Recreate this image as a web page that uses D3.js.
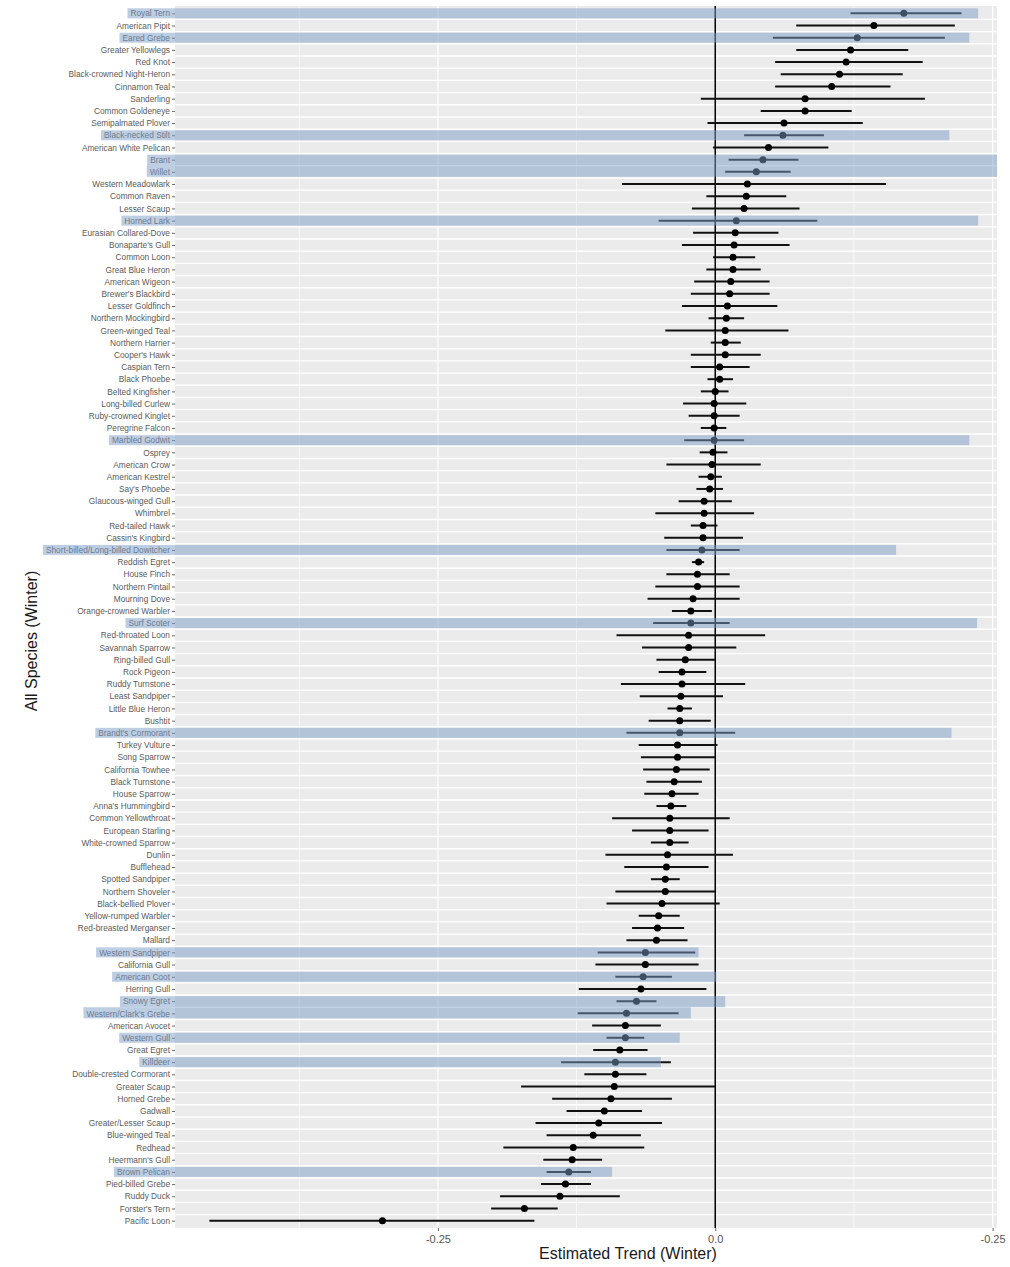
<!DOCTYPE html>
<html>
<head>
<meta charset="utf-8">
<script src="https://cdn.jsdelivr.net/npm/d3@7"></script>
<style>
  body { margin: 0; background: #fff; }
  text { font-family: 'Liberation Sans', Arial, sans-serif; }
</style>
</head>
<body>
<script>
const species = [
  'Royal Tern', 'American Pipit', 'Eared Grebe', 'Greater Yellowlegs', 'Red Knot',
  'Black-crowned Night-Heron', 'Cinnamon Teal', 'Sanderling', 'Common Goldeneye', 'Semipalmated Plover',
  'Black-necked Stilt', 'American White Pelican', 'Brant', 'Willet', 'Western Meadowlark',
  'Common Raven', 'Lesser Scaup', 'Horned Lark', 'Eurasian Collared-Dove', "Bonaparte's Gull",
  'Common Loon', 'Great Blue Heron', 'American Wigeon', "Brewer's Blackbird", 'Lesser Goldfinch',
  'Northern Mockingbird', 'Green-winged Teal', 'Northern Harrier', "Cooper's Hawk", 'Caspian Tern',
  'Black Phoebe', 'Belted Kingfisher', 'Long-billed Curlew', 'Ruby-crowned Kinglet', 'Peregrine Falcon',
  'Marbled Godwit', 'Osprey', 'American Crow', 'American Kestrel', "Say's Phoebe",
  'Glaucous-winged Gull', 'Whimbrel', 'Red-tailed Hawk', "Cassin's Kingbird", 'Short-billed/Long-billed Dowitcher',
  'Reddish Egret', 'House Finch', 'Northern Pintail', 'Mourning Dove', 'Orange-crowned Warbler',
  'Surf Scoter', 'Red-throated Loon', 'Savannah Sparrow', 'Ring-billed Gull', 'Rock Pigeon',
  'Ruddy Turnstone', 'Least Sandpiper', 'Little Blue Heron', 'Bushtit', "Brandt's Cormorant",
  'Turkey Vulture', 'Song Sparrow', 'California Towhee', 'Black Turnstone', 'House Sparrow',
  "Anna's Hummingbird", 'Common Yellowthroat', 'European Starling', 'White-crowned Sparrow', 'Dunlin',
  'Bufflehead', 'Spotted Sandpiper', 'Northern Shoveler', 'Black-bellied Plover', 'Yellow-rumped Warbler',
  'Red-breasted Merganser', 'Mallard', 'Western Sandpiper', 'California Gull', 'American Coot',
  'Herring Gull', 'Snowy Egret', "Western/Clark's Grebe", 'American Avocet', 'Western Gull',
  'Great Egret', 'Killdeer', 'Double-crested Cormorant', 'Greater Scaup', 'Horned Grebe',
  'Gadwall', 'Greater/Lesser Scaup', 'Blue-winged Teal', 'Redhead', "Heermann's Gull",
  'Brown Pelican', 'Pied-billed Grebe', 'Ruddy Duck', "Forster's Tern", 'Pacific Loon',
];

const estimate = [
  0.170, 0.143, 0.128, 0.122, 0.118, 0.112, 0.105, 0.081, 0.081, 0.062,
  0.061, 0.048, 0.043, 0.037, 0.029, 0.028, 0.026, 0.019, 0.018, 0.017,
  0.016, 0.016, 0.014, 0.013, 0.011, 0.010, 0.009, 0.009, 0.009, 0.004,
  0.004, 0.000, -0.001, -0.001, -0.001, -0.001, -0.002, -0.003, -0.004, -0.005,
  -0.010, -0.010, -0.011, -0.011, -0.012, -0.015, -0.016, -0.016, -0.020, -0.022,
  -0.022, -0.024, -0.024, -0.027, -0.030, -0.030, -0.031, -0.032, -0.032, -0.032,
  -0.034, -0.034, -0.035, -0.037, -0.039, -0.040, -0.041, -0.041, -0.041, -0.043,
  -0.044, -0.045, -0.045, -0.048, -0.051, -0.052, -0.053, -0.063, -0.063, -0.065,
  -0.067, -0.071, -0.080, -0.081, -0.081, -0.086, -0.090, -0.090, -0.091, -0.094,
  -0.100, -0.105, -0.110, -0.128, -0.129, -0.132, -0.135, -0.140, -0.172, -0.300,
];

const lower = [
  0.122, 0.073, 0.052, 0.073, 0.054, 0.059, 0.054, -0.013, 0.041, -0.007,
  0.026, -0.002, 0.012, 0.009, -0.084, -0.008, -0.021, -0.051, -0.020, -0.030,
  -0.002, -0.008, -0.019, -0.022, -0.030, -0.006, -0.045, -0.004, -0.022, -0.022,
  -0.007, -0.013, -0.029, -0.024, -0.013, -0.028, -0.014, -0.044, -0.015, -0.017,
  -0.033, -0.054, -0.022, -0.046, -0.044, -0.021, -0.044, -0.054, -0.061, -0.039,
  -0.056, -0.089, -0.066, -0.053, -0.051, -0.085, -0.068, -0.043, -0.060, -0.080,
  -0.069, -0.067, -0.065, -0.062, -0.064, -0.053, -0.093, -0.075, -0.058, -0.099,
  -0.082, -0.058, -0.090, -0.098, -0.069, -0.075, -0.080, -0.106, -0.108, -0.090,
  -0.123, -0.089, -0.124, -0.111, -0.098, -0.110, -0.139, -0.118, -0.175, -0.147,
  -0.134, -0.162, -0.152, -0.191, -0.155, -0.152, -0.157, -0.194, -0.202, -0.456,
];

const upper = [
  0.222, 0.216, 0.207, 0.174, 0.187, 0.169, 0.158, 0.189, 0.123, 0.133,
  0.098, 0.102, 0.075, 0.068, 0.154, 0.064, 0.076, 0.092, 0.057, 0.067,
  0.036, 0.041, 0.049, 0.049, 0.056, 0.026, 0.066, 0.023, 0.041, 0.031,
  0.016, 0.012, 0.028, 0.022, 0.010, 0.026, 0.011, 0.041, 0.006, 0.007,
  0.015, 0.035, 0.002, 0.025, 0.022, -0.010, 0.013, 0.022, 0.022, -0.003,
  0.013, 0.045, 0.019, 0.000, -0.008, 0.027, 0.007, -0.021, -0.004, 0.018,
  0.002, 0.000, -0.005, -0.012, -0.015, -0.026, 0.013, -0.006, -0.024, 0.016,
  -0.006, -0.032, 0.000, 0.004, -0.032, -0.028, -0.025, -0.018, -0.015, -0.039,
  -0.008, -0.053, -0.033, -0.049, -0.064, -0.061, -0.040, -0.062, 0.000, -0.039,
  -0.066, -0.048, -0.067, -0.064, -0.102, -0.112, -0.112, -0.086, -0.142, -0.163,
];

// highlighted rows and where their blue band stops on the trend axis
const highlighted = [
  'Royal Tern', 'Eared Grebe', 'Black-necked Stilt', 'Brant', 'Willet', 'Horned Lark',
  'Marbled Godwit', 'Short-billed/Long-billed Dowitcher', 'Surf Scoter', "Brandt's Cormorant",
  'Western Sandpiper', 'American Coot', 'Snowy Egret', "Western/Clark's Grebe", 'Western Gull',
  'Killdeer', 'Brown Pelican',
];
const highlightEnd = [
  0.237, 0.229, 0.211, 0.254, 0.254, 0.237,
  0.229, 0.163, 0.236, 0.213,
  -0.015, 0.001, 0.009, -0.022, -0.032,
  -0.049, -0.093,
];

const xTickValues = [-0.25, 0, 0.25];
const xTickLabels = ['-0.25', '0.0', '-0.25'];
const xGridValues = [-0.375, -0.25, -0.125, 0.125, 0.25];

const width = 1010;
const height = 1267;
const panel = {
  left: 175, right: 997, top: 6, bottom: 1228,
};

const rows = species.map((name, i) => ({
  name, est: estimate[i], lo: lower[i], hi: upper[i],
}));

const x = d3.scaleLinear()
  .domain([-0.487, 0.254])
  .range([panel.left, panel.right]);

const y = d3.scalePoint()
  .domain(species)
  .range([panel.top, panel.bottom])
  .padding(0.6);

const step = y.step();

const svg = d3.select('body').append('svg')
  .attr('width', width)
  .attr('height', height);

// panel background
svg.append('rect')
  .attr('x', panel.left)
  .attr('y', panel.top)
  .attr('width', panel.right - panel.left)
  .attr('height', panel.bottom - panel.top)
  .style('fill', '#ebebeb');

// horizontal white lines between rows
svg.append('g').classed('hgrid', true)
  .selectAll('line')
  .data(species.slice(0, -1))
  .enter()
  .append('line')
  .attr('x1', panel.left)
  .attr('x2', panel.right)
  .attr('y1', (d) => y(d) + step / 2)
  .attr('y2', (d) => y(d) + step / 2)
  .style('stroke', '#fff')
  .style('stroke-width', 1.4);

// vertical white grid
svg.append('g').classed('vgrid', true)
  .selectAll('line')
  .data(xGridValues)
  .enter()
  .append('line')
  .attr('x1', (d) => x(d))
  .attr('x2', (d) => x(d))
  .attr('y1', panel.top)
  .attr('y2', panel.bottom)
  .style('stroke', '#fff')
  .style('stroke-width', (d) => (Math.abs(d) === 0.25 ? 1.2 : 0.7));

// zero line
svg.append('line')
  .attr('x1', x(0))
  .attr('x2', x(0))
  .attr('y1', panel.top)
  .attr('y2', panel.bottom)
  .style('stroke', '#000')
  .style('stroke-width', 1.5);

// error bars
svg.append('g').classed('ranges', true)
  .selectAll('line')
  .data(rows)
  .enter()
  .append('line')
  .attr('x1', (d) => x(d.lo))
  .attr('x2', (d) => x(d.hi))
  .attr('y1', (d) => y(d.name))
  .attr('y2', (d) => y(d.name))
  .style('stroke', '#111')
  .style('stroke-width', 2);

// points
svg.append('g').classed('points', true)
  .selectAll('circle')
  .data(rows)
  .enter()
  .append('circle')
  .attr('cx', (d) => x(d.est))
  .attr('cy', (d) => y(d.name))
  .attr('r', 3.5)
  .style('fill', '#000');

// y axis ticks and species labels
const yAxis = svg.append('g')
  .attr('transform', `translate(${panel.left},0)`)
  .call(d3.axisLeft(y).tickSize(3).tickPadding(2));
yAxis.select('.domain').remove();
yAxis.selectAll('.tick line').style('stroke', '#666');
yAxis.selectAll('.tick text')
  .style('font-size', '8.3px')
  .style('fill', '#5a5a5a')
  .attr('font-family', "'Liberation Sans', Arial, sans-serif");

// x axis
const xAxis = svg.append('g')
  .attr('transform', `translate(0,${panel.bottom})`)
  .call(d3.axisBottom(x)
    .tickValues(xTickValues)
    .tickFormat((d, i) => xTickLabels[i])
    .tickSize(3)
    .tickPadding(4));
xAxis.select('.domain').remove();
xAxis.selectAll('.tick line').style('stroke', '#666');
xAxis.selectAll('.tick text')
  .style('font-size', '11px')
  .style('fill', '#555')
  .attr('font-family', "'Liberation Sans', Arial, sans-serif");

// blue highlight bands, drawn over the label and the row
const labelWidth = {};
yAxis.selectAll('.tick').each(function (d) {
  labelWidth[d] = d3.select(this).select('text').node().getComputedTextLength();
});
const labelRight = panel.left - 5;
const isHl = (name) => highlighted.includes(name);
const bandH = 10;

const hlRows = highlighted.map((name, i) => {
  const idx = species.indexOf(name);
  const cy = y(name);
  const above = idx > 0 && isHl(species[idx - 1]);
  const below = idx < species.length - 1 && isHl(species[idx + 1]);
  const top = above ? cy - step / 2 : cy - bandH / 2;
  const bottom = below ? cy + step / 2 : cy + bandH / 2;
  return {
    name, top, bottom, end: highlightEnd[i],
  };
});

svg.append('g').classed('highlights', true)
  .selectAll('rect')
  .data(hlRows)
  .enter()
  .append('rect')
  .attr('x', (d) => labelRight - labelWidth[d.name] - 3)
  .attr('y', (d) => d.top)
  .attr('width', (d) => x(d.end) - (labelRight - labelWidth[d.name] - 3))
  .attr('height', (d) => d.bottom - d.top)
  .style('fill', '#7c9cc6')
  .style('opacity', 0.5);

// axis titles
svg.append('text')
  .attr('x', 628)
  .attr('y', 1259)
  .attr('text-anchor', 'middle')
  .style('font-size', '16px')
  .style('fill', '#1a1a1a')
  .text('Estimated Trend (Winter)');

svg.append('text')
  .attr('transform', 'translate(37,641) rotate(-90)')
  .attr('text-anchor', 'middle')
  .style('font-size', '16px')
  .style('fill', '#1a1a1a')
  .text('All Species (Winter)');
</script>
</body>
</html>
